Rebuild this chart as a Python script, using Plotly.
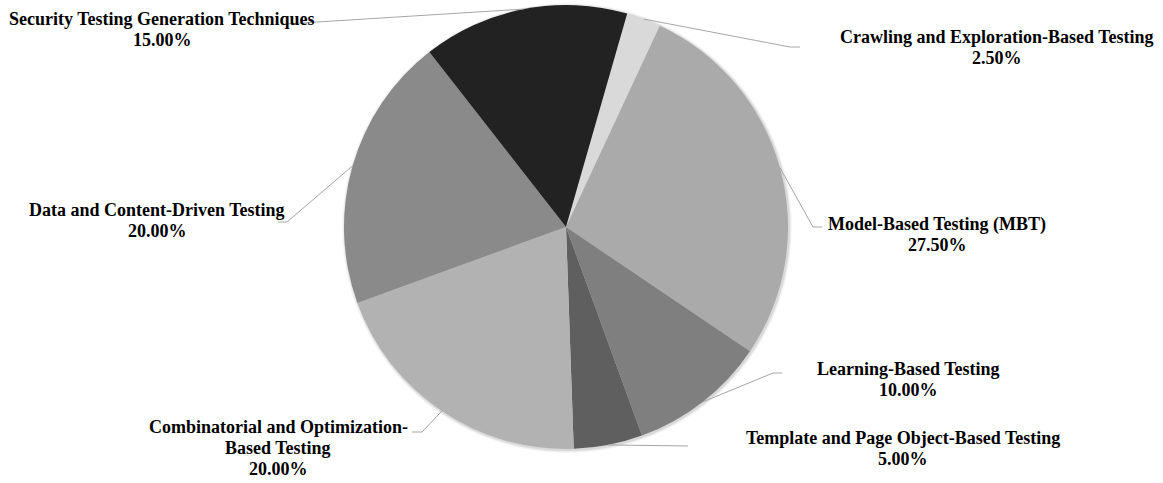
import math
import plotly.graph_objects as go

# ---- data ----
categories = [
    "Crawling and Exploration-Based Testing",
    "Model-Based Testing (MBT)",
    "Learning-Based Testing",
    "Template and Page Object-Based Testing",
    "Combinatorial and Optimization-Based Testing",
    "Data and Content-Driven Testing",
    "Security Testing Generation Techniques",
]
label_lines = [
    ["Crawling and Exploration-Based Testing"],
    ["Model-Based Testing (MBT)"],
    ["Learning-Based Testing"],
    ["Template and Page Object-Based Testing"],
    ["Combinatorial and Optimization-", "Based Testing"],
    ["Data and Content-Driven Testing"],
    ["Security Testing Generation Techniques"],
]
values = [2.5, 27.5, 10.0, 5.0, 20.0, 20.0, 15.0]
colors = ["#d9d9d9", "#aaaaaa", "#7f7f7f", "#5f5f5f", "#b2b2b2", "#8a8a8a", "#222222"]

# ---- layout (pixels in the screenshot) ----
W, H = 1163, 483
CX, CY, R = 566, 227, 222
ROTATION = 16
LINE_H = 21
# centre x and y of first text line for each label
label_pos = [(997, 37), (937, 224), (908, 369), (903, 438), (278, 427), (157, 210), (162, 19)]
elbows = [
    [(790, 47), (800, 47)],
    [(813, 227), (822, 227)],
    [(773, 373), (782, 373)],
    [(688, 446)],
    [(422, 432), (412, 432)],
    [(287, 222), (278, 222)],
    [(285, 24)],
]


def px(x):
    return min(max(x / W, 0), 1)


def py(y):
    return min(max(1 - y / H, 0), 1)


traces = []
# soft shadow around the pie
for k, alpha in [(3, 0.03), (2, 0.05), (1, 0.07)]:
    traces.append(go.Pie(
        values=[1], sort=False, textinfo="none", hoverinfo="skip",
        marker=dict(colors=["rgba(0,0,0,{})".format(alpha)], line=dict(width=0)),
        domain=dict(x=[px(CX - R - k + 1), px(CX + R + k + 1)],
                    y=[py(CY + R + k + 1), py(CY - R - k + 1)]),
        showlegend=False,
    ))
traces.append(go.Pie(
    labels=categories, values=values, sort=False, direction="clockwise",
    rotation=ROTATION, textinfo="none", hoverinfo="label+percent",
    marker=dict(colors=colors, line=dict(width=0)),
    domain=dict(x=[px(CX - R), px(CX + R)], y=[py(CY + R), py(CY - R)]),
    showlegend=False,
))
fig = go.Figure(traces)

total = sum(values)
cum = 0.0
shapes = []
annotations = []
font = dict(family="Liberation Serif", size=18, color="#000000")
for i, v in enumerate(values):
    mid = ROTATION + 360 * (cum + v / 2) / total
    cum += v
    a = math.radians(mid)
    ex, ey = CX + R * math.sin(a), CY - R * math.cos(a)
    pts = [(ex, ey)] + elbows[i]
    path = "M {} {}".format(px(pts[0][0]), py(pts[0][1]))
    for (x, y) in pts[1:]:
        path += " L {} {}".format(px(x), py(y))
    shapes.append(dict(type="path", xref="paper", yref="paper", path=path,
                       line=dict(color="#a6a6a6", width=1)))
    lx, ly = label_pos[i]
    lines = label_lines[i] + ["{:.2f}%".format(v)]
    for j, t in enumerate(lines):
        annotations.append(dict(
            x=px(lx), y=py(ly + j * LINE_H), xref="paper", yref="paper",
            showarrow=False, xanchor="center", yanchor="middle",
            text="<b>{}</b>".format(t), font=font,
        ))

fig.update_layout(
    width=W, height=H, margin=dict(l=0, r=0, t=0, b=0),
    paper_bgcolor="#ffffff", plot_bgcolor="#ffffff",
    shapes=shapes, annotations=annotations,
)
fig.write_html("out.html", config={"displayModeBar": False},
               post_script="document.body.style.margin='0';")
